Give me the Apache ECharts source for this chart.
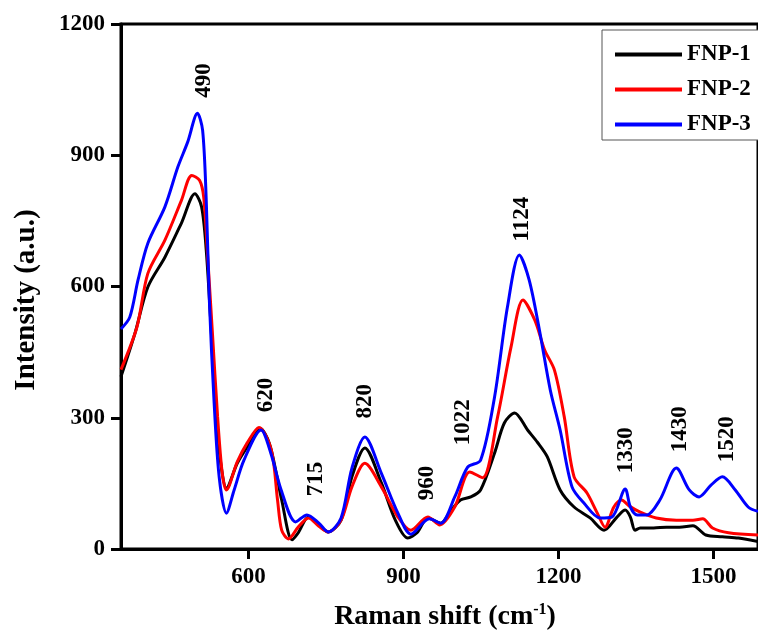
<!DOCTYPE html>
<html>
<head>
<meta charset="utf-8">
<script src="https://cdn.jsdelivr.net/npm/echarts@6/dist/echarts.min.js"></script>
<style>
html,body{margin:0;padding:0;background:#fff;}
#chart{width:758px;height:635px;}
</style>
</head>
<body>
<div id="chart"></div>
<script>
// ---- data ----
var seriesNames = ['FNP-1', 'FNP-2', 'FNP-3'];
var fnp1 = [[353,394],[380,493],[405,599],[438,667],[470,745],[496,812],[509,782],[518,683],[528,493],[537,302],[547,188],[557,139],[578,196],[597,233],[622,276],[640,242],[655,165],[664,112],[684,21],[696,37],[716,73],[736,55],[754,39],[779,66],[800,165],[825,231],[857,151],[884,66],[908,25],[926,37],[947,71],[972,59],[990,85],[1010,112],[1030,119],[1049,135],[1076,219],[1095,288],[1115,311],[1140,272],[1159,244],[1178,211],[1203,135],[1230,96],[1261,71],[1288,43],[1313,73],[1329,89],[1339,73],[1348,43],[1358,48],[1384,48],[1409,50],[1434,50],[1460,53],[1485,32],[1517,28],[1548,25],[1586,17]];
var fnp2 = [[353,410],[384,508],[405,630],[438,706],[470,797],[490,854],[505,843],[513,805],[520,683],[530,493],[540,302],[549,173],[557,135],[578,199],[597,242],[620,278],[644,226],[656,112],[664,43],[677,23],[696,50],[716,71],[736,52],[754,39],[779,66],[800,142],[825,196],[857,142],[889,73],[914,43],[947,73],[970,55],[999,96],[1028,176],[1053,163],[1082,302],[1108,462],[1131,569],[1154,523],[1173,455],[1192,409],[1211,302],[1230,165],[1255,128],[1275,82],[1290,50],[1307,96],[1322,112],[1337,98],[1357,85],[1389,71],[1428,66],[1460,66],[1479,69],[1498,48],[1529,37],[1586,32]];
var fnp3 = [[353,503],[370,530],[386,615],[405,699],[438,782],[463,873],[482,930],[501,996],[511,957],[518,797],[524,569],[533,340],[543,165],[557,82],[572,135],[591,203],[624,272],[643,219],[663,135],[691,62],[713,78],[736,59],[754,39],[779,71],[800,185],[825,256],[857,173],[889,82],[914,34],[950,69],[972,59],[999,119],[1024,187],[1049,203],[1076,347],[1101,553],[1124,672],[1143,615],[1163,500],[1184,363],[1203,272],[1226,142],[1249,105],[1280,71],[1303,73],[1329,137],[1339,96],[1352,78],[1371,78],[1396,112],[1428,185],[1453,135],[1472,119],[1495,146],[1517,165],[1542,135],[1567,96],[1586,86]];
var peakLabels = ['490','620','715','820','960','1022','1124','1330','1430','1520'];
var peakLabelPos = [[513,1071],[634,352],[730,160],[825,338],[946,151],[1015,290],[1130,754],[1330,226],[1435,274],[1526,251]];
var xTickValues = [600, 900, 1200, 1500];
var xTitle = 'Raman shift (cm';
var xTitleSup = '-1';
var yTitle = 'Intensity (a.u.)';
var colors = ['#000000', '#ff0000', '#0000ff'];

var font = 'Liberation Serif, Times New Roman, serif';
var chart = echarts.init(document.getElementById('chart'), null, {renderer: 'canvas'});

function lineSeries(name, data, color) {
  return {
    name: name, type: 'line', data: data, smooth: 0.3,
    symbol: 'none', showSymbol: false,
    lineStyle: {color: color, width: 3},
    itemStyle: {color: color},
    z: 3
  };
}

var annot = peakLabels.map(function (t, i) {
  return {name: t, value: peakLabelPos[i]};
});

function plain(v) { return String(v); }

var option = {
  backgroundColor: '#ffffff',
  animation: false,
  grid: {left: 121, top: 24, right: -4, bottom: 86, show: true, borderColor: '#000', borderWidth: 3, containLabel: false},
  legend: {
    data: seriesNames,
    orient: 'vertical',
    left: 602, top: 30,
    padding: [13, 40, 4, 13],
    icon: 'rect',
    itemWidth: 67, itemHeight: 4, itemGap: 12,
    borderColor: '#555', borderWidth: 1,
    backgroundColor: '#fff',
    textStyle: {fontFamily: font, fontWeight: 'bold', fontSize: 23, color: '#000', lineHeight: 23}
  },
  graphic: [
    {
      type: 'text', x: 445, y: 617, z: 10,
      style: {
        text: '{b|' + xTitle + '}{s|' + xTitleSup + '}{b|)}',
        align: 'center', verticalAlign: 'middle',
        rich: {
          b: {fontFamily: font, fontWeight: 'bold', fontSize: 28, fill: '#000'},
          s: {fontFamily: font, fontWeight: 'bold', fontSize: 16, fill: '#000', verticalAlign: 'top', padding: [0, 0, 14, 0]}
        }
      }
    },
    {
      type: 'text', x: 27, y: 300, rotation: Math.PI / 2, z: 10,
      style: {text: yTitle, fontFamily: font, fontWeight: 'bold', fontSize: 29, fill: '#000', align: 'center', verticalAlign: 'middle'}
    }
  ],
  xAxis: {
    type: 'value', min: 353, max: 1586,
    axisLine: {lineStyle: {color: '#000', width: 3}},
    axisTick: {show: true, length: 10, lineStyle: {color: '#000', width: 3}, customValues: xTickValues},
    axisLabel: {customValues: xTickValues, formatter: plain, fontFamily: font, fontWeight: 'bold', fontSize: 23, color: '#000', margin: 17},
    splitLine: {show: false}
  },
  yAxis: {
    type: 'value', min: 0, max: 1200, interval: 300,
    axisLine: {lineStyle: {color: '#000', width: 3}},
    axisTick: {show: true, length: 10, lineStyle: {color: '#000', width: 3}},
    axisLabel: {formatter: plain, fontFamily: font, fontWeight: 'bold', fontSize: 23, color: '#000', margin: 16},
    splitLine: {show: false}
  },
  series: [
    lineSeries(seriesNames[0], fnp1, colors[0]),
    lineSeries(seriesNames[1], fnp2, colors[1]),
    lineSeries(seriesNames[2], fnp3, colors[2]),
    {
      name: 'peaks', type: 'scatter', data: annot, symbolSize: 0,
      itemStyle: {color: '#000', opacity: 1},
      label: {show: true, position: 'inside', rotate: 90, formatter: '{b}',
        fontFamily: font, fontWeight: 'bold', fontSize: 23, color: '#000', opacity: 1},
      emphasis: {disabled: true},
      z: 5, silent: true
    }
  ]
};
chart.setOption(option);
</script>
</body>
</html>
